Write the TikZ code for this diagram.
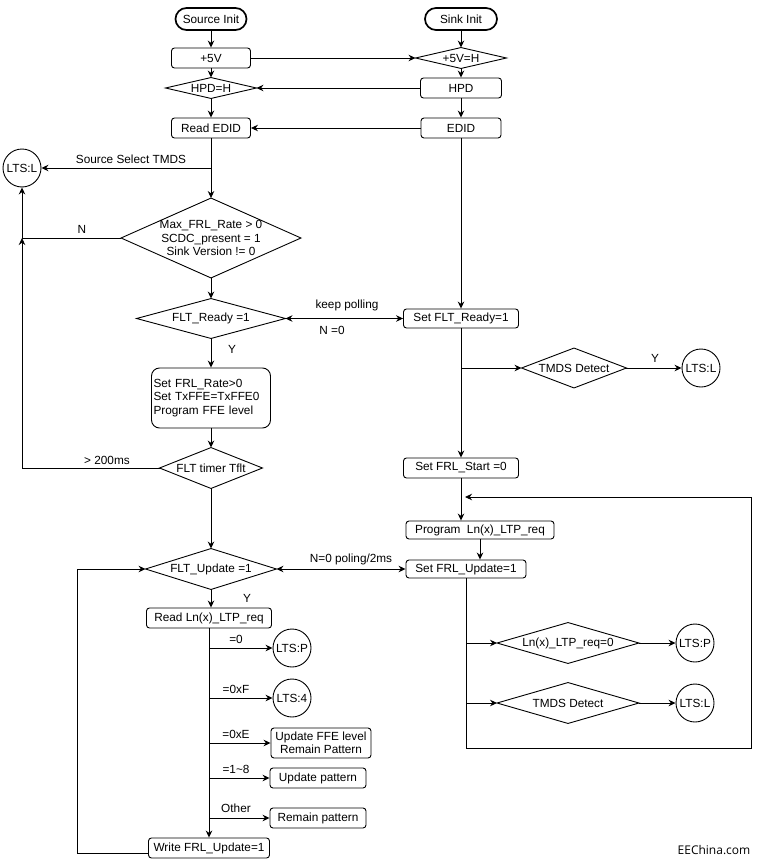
\documentclass[tikz,border=0pt]{standalone}
\usepackage{fontspec}
\setmainfont{Liberation Sans}
\newfontfamily\wmfont{Open Sans}
\usetikzlibrary{arrows.meta,calc}
\begin{document}
\begin{tikzpicture}[x=1pt,y=-1pt,
  every node/.style={font=\fontsize{11.8}{13.2}\selectfont},
  line width=0.9pt,
  >={Stealth[length=7pt,width=6.5pt]},
  box/.style={draw, rectangle, rounded corners=3pt, inner sep=1pt, align=center},
  term/.style={draw, line width=1.7pt, rounded corners=11pt, inner sep=0pt},
  dia/.style={rectangle, inner sep=0pt, align=center},
  circ/.style={draw, circle, inner sep=0pt, minimum size=38pt},
  lbl/.style={inner sep=0pt}]
\useasboundingbox (0,0) rectangle (761,862);

% ---- left column
\node[term, minimum width=71pt, minimum height=22pt] (srcinit) at (211,19) {Source Init};
\node[term, minimum width=72pt, minimum height=22pt] (sinkinit) at (461,19) {Sink Init};
\node[box, minimum width=79pt, minimum height=20pt] (p5v) at (211,58) {+5V};
\node[dia, minimum width=90pt, minimum height=20pt] (p5vh) at (461,58) {+5V=H};
\node[dia, minimum width=90pt, minimum height=20pt] (hpdh) at (211,88) {HPD=H};
\node[box, minimum width=81pt, minimum height=20pt] (hpd) at (461,88) {HPD};
\node[box, minimum width=79pt, minimum height=20pt] (redid) at (211,128) {Read EDID};
\node[box, minimum width=80pt, minimum height=20pt] (edid) at (461,128) {EDID};
\node[circ] (ltsla) at (22,168) {LTS:L};
\node[dia, minimum width=179pt, minimum height=79pt] (maxd) at (211,238) {Max\_FRL\_Rate > 0\\SCDC\_present = 1\\Sink Version != 0};
\node[dia, minimum width=148pt, minimum height=39pt] (fltr) at (211,318.5) {FLT\_Ready =1};
\node[box, minimum width=115pt, minimum height=19pt] (setfltr) at (461,318.5) {Set FLT\_Ready=1};
\node[draw, rounded corners=8pt, minimum height=60pt, text width=115pt, inner sep=2pt, align=left] (setfrl) at (211,398) {Set FRL\_Rate>0\\Set TxFFE=TxFFE0\\Program FFE level};
\node[dia, minimum width=102pt, minimum height=40pt] (tflt) at (211,468) {FLT timer Tflt};
\node[dia, minimum width=104pt, minimum height=39pt] (tmdsa) at (574,368) {TMDS Detect};
\node[circ] (ltslb) at (701,368) {LTS:L};
\node[box, minimum width=115pt, minimum height=20pt] (frlstart) at (461,468) {Set FRL\_Start =0};
\node[box, minimum width=148pt, minimum height=18pt] (prog) at (480,530) {Program\ \ Ln(x)\_LTP\_req};
\node[box, minimum width=120pt, minimum height=18pt] (setfrlu) at (466,569) {Set FRL\_Update=1};
\node[dia, minimum width=130pt, minimum height=40pt] (fltu) at (211,569) {FLT\_Update =1};
\node[box, minimum width=125pt, minimum height=20pt] (read) at (209,618) {Read Ln(x)\_LTP\_req};
\node[circ] (ltspa) at (292,648) {LTS:P};
\node[circ] (ltsf) at (292,698) {LTS:4};
\node[box, minimum width=100pt, minimum height=30pt] (ffe) at (321,743) {Update FFE level\\Remain Pattern};
\node[box, minimum width=96pt, minimum height=20pt] (updpat) at (318,778) {Update pattern};
\node[box, minimum width=96pt, minimum height=20pt] (rempat) at (318,818) {Remain pattern};
\node[box, minimum width=121pt, minimum height=20pt] (write) at (209,848) {Write FRL\_Update=1};
\node[dia, minimum width=141pt, minimum height=40pt] (lnreq) at (568,643) {Ln(x)\_LTP\_req=0};
\node[dia, minimum width=141pt, minimum height=40pt] (tmdsb) at (568,703) {TMDS Detect};
\node[circ] (ltspb) at (695,643) {LTS:P};
\node[circ] (ltslc) at (695,703) {LTS:L};

\foreach \d in {p5vh,hpdh,maxd,fltr,tflt,tmdsa,fltu,lnreq,tmdsb}
  \draw (\d.north) -- (\d.east) -- (\d.south) -- (\d.west) -- cycle;

% ---- labels
\node[lbl] (lsst) at (131,159) {Source Select TMDS};
\node[lbl] (ln) at (82,229) {N};
\node[lbl] (lkp) at (347,305) {keep polling};
\node[lbl] (ln0) at (332,330) {N =0};
\node[lbl] (ly1) at (232,349) {Y};
\node[lbl] (l200) at (107,460) {> 200ms};
\node[lbl] (ly2) at (655,358) {Y};
\node[lbl] (lpol) at (351,559) {N=0 poling/2ms};
\node[lbl] (ly3) at (247,598) {Y};
\node[lbl] (l0) at (236,639) {=0};
\node[lbl] (lf) at (236,689) {=0xF};
\node[lbl] (le) at (236,734) {=0xE};
\node[lbl] (l18) at (236,769) {=1\textasciitilde 8};
\node[lbl] (lo) at (236,808) {Other};
\node[lbl, font=\wmfont\fontsize{12}{14}\selectfont] (wm) at (714,850) {EEChina.com};

% ---- coordinates
\coordinate (j1) at (211,168);
\coordinate (cN) at (22,238);
\coordinate (cT) at (22,468);
\coordinate (cR1) at (461,368);
\coordinate (lpB) at (751,748);
\coordinate (lpD) at (465,497);
\coordinate (bq1) at (466,643);
\coordinate (bq2) at (466,703);
\coordinate (b0) at (209,648);
\coordinate (bf) at (209,698);
\coordinate (be) at (209,743);
\coordinate (b18) at (209,778);
\coordinate (bo) at (209,818);
\coordinate (wl) at (77,853);
\coordinate (fl) at (77,569);

% ---- connectors
\draw[->] (srcinit) -- (p5v);
\draw[->] (p5v) -- (hpdh);
\draw[->] (hpdh) -- (redid);
\draw[->] (sinkinit) -- (p5vh);
\draw[->] (p5vh) -- (hpd);
\draw[->] (hpd) -- (edid);
\draw[->] (p5v) -- (p5vh);
\draw[->] (hpd) -- (hpdh);
\draw[->] (edid) -- (redid);
\draw[->] (redid) -- (maxd);
\draw[->] (j1) -- (ltsla);
\draw[->] (maxd.west) -- (cN) -- (ltsla);
\draw[->] (tflt.west) -- (cT) -- (cN);
\draw[->] (maxd) -- (fltr);
\draw[->] (fltr) -- (setfrl);
\draw[->] (setfrl) -- (tflt);
\draw[->] (tflt) -- (fltu);
\draw[<->] (fltr) -- (setfltr);
\draw[->] (edid) -- (setfltr);
\draw[->] (setfltr) -- (frlstart);
\draw[->] (cR1) -- (tmdsa);
\draw[->] (tmdsa) -- (ltslb);
\draw[->] (frlstart.south) -- (frlstart.south |- prog.north);
\draw[->] (prog.south) -- (prog.south |- setfrlu.north);
\draw[<->] (fltu) -- (setfrlu);
\draw[->] (setfrlu.south) |- (lpB) |- (lpD);
\draw[->] (bq1) -- (lnreq);
\draw[->] (bq2) -- (tmdsb);
\draw[->] (lnreq) -- (ltspb);
\draw[->] (tmdsb) -- (ltslc);
\draw[->] (fltu.south) -- (fltu.south |- read.north);
\draw[->] (read.south) -- (write.north);
\draw[->] (b0) -- (ltspa);
\draw[->] (bf) -- (ltsf);
\draw[->] (be) -- (ffe);
\draw[->] (b18) -- (updpat);
\draw[->] (bo) -- (rempat);
\draw[->] (write.west |- wl) -- (wl) -- (fl) -- (fltu.west);
\end{tikzpicture}
\end{document}
